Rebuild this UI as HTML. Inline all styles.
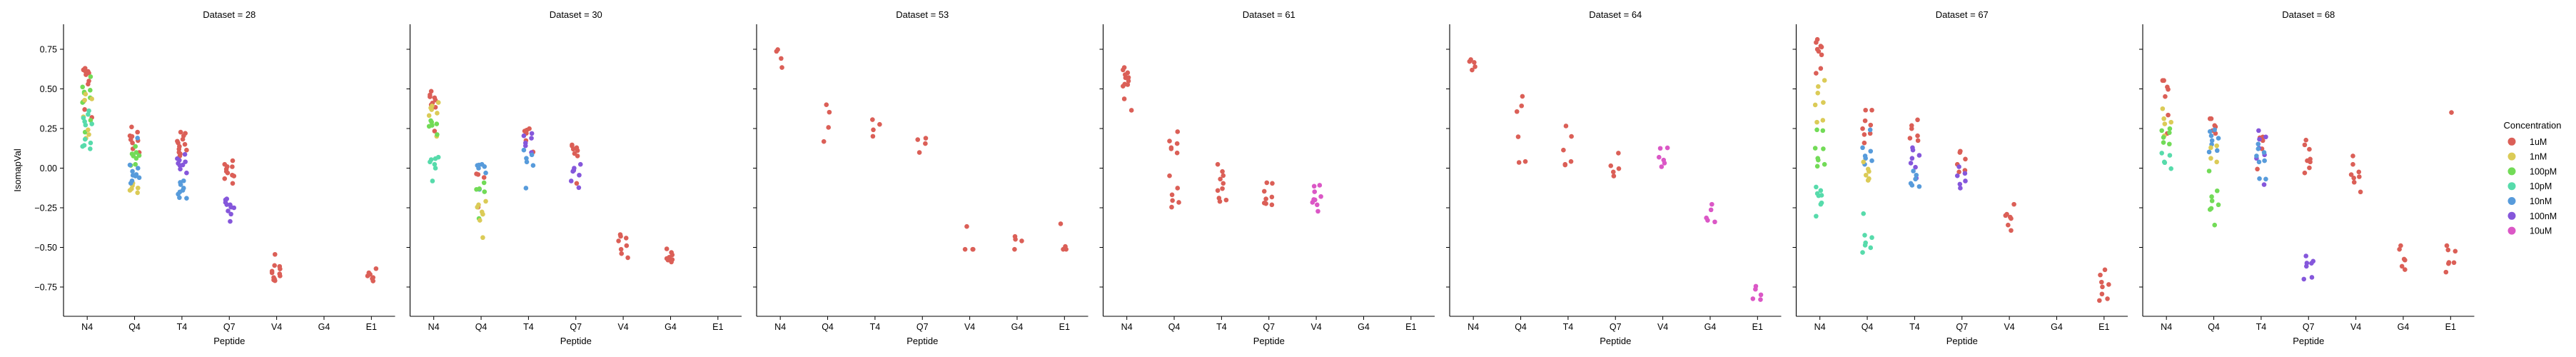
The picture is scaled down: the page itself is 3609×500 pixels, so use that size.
<!DOCTYPE html>
<html><head><meta charset="utf-8"><style>
body{margin:0;background:#fff}
svg{display:block}
text{font-family:"Liberation Sans","DejaVu Sans",sans-serif;fill:#000}
</style></head><body>
<svg id="chart" width="3609" height="500" viewBox="0 0 3609 500" xmlns="http://www.w3.org/2000/svg"></svg>
<script>
const datasets = [28, 30, 53, 61, 64, 67, 68];
const peptides = ["N4","Q4","T4","Q7","V4","G4","E1"];
const concentrations = ["1uM","1nM","100pM","10pM","10nM","100nM","10uM"];
const concColors = ["#db5f57","#dbcb57","#72db57","#57dbab","#579bdb","#8557db","#db57c6"];
const yTicks = [0.75,0.5,0.25,0,-0.25,-0.5,-0.75];
const yTickLabels = ["0.75","0.50","0.25","0.00","\u22120.25","\u22120.50","\u22120.75"];
// each entry: [peptideIndex, concentrationIndex, [values]]
const d28 = [
 [0,0,[0.62,0.62,0.61,0.60,0.59,0.55,0.53,0.42,0.37,0.32,0.61,0.63]],
 [0,2,[0.577,0.512,0.492,0.48,0.474,0.444,0.414,0.302,0.227]],
 [0,1,[0.467,0.437,0.429,0.324,0.242,0.212,0.189]],
 [0,3,[0.362,0.339,0.317,0.294,0.279,0.272,0.182,0.159,0.137,0.122,0.144]],
 [1,0,[0.26,0.227,0.204,0.174,0.159,0.122,0.099,0.2,0.18]],
 [1,2,[0.137,0.099,0.077,0.062,0.024,0.017,0.09,0.08]],
 [1,1,[-0.095,-0.11,-0.125,-0.14,-0.155,-0.1,-0.13]],
 [1,4,[0.19,0.02,0,-0.02,-0.045,-0.06,-0.08,-0.095,-0.05,-0.04]],
 [2,0,[0.227,0.204,0.182,0.159,0.137,0.114,0.09,0.077,0.22,0.17,0.15,0.12,0.1]],
 [2,5,[0.087,0.06,0.04,0.017,-0.006,-0.03,0.05,0.03,0.02]],
 [2,4,[-0.08,-0.104,-0.126,-0.14,-0.164,-0.186,-0.19,-0.09,-0.15]],
 [3,0,[0.047,0.024,0.009,-0.006,-0.02,-0.044,-0.066,-0.096,0.01,-0.03,-0.05]],
 [3,5,[-0.194,-0.216,-0.231,-0.246,-0.27,-0.29,-0.336,-0.2,-0.23,-0.25]],
 [4,0,[-0.544,-0.614,-0.636,-0.65,-0.667,-0.69,-0.705,-0.62,-0.66,-0.68,-0.7,-0.71]],
 [6,0,[-0.634,-0.66,-0.68,-0.697,-0.712,-0.67,-0.69]]
];
const d30 = [
 [0,0,[0.485,0.462,0.444,0.429,0.411,0.384,0.234,0.45,0.40]],
 [0,1,[0.414,0.392,0.369,0.347,0.332,0.201,0.38]],
 [0,2,[0.3,0.279,0.264,0.212,0.29,0.27]],
 [0,3,[0.069,0.054,0.039,0.024,0,-0.081,0.06]],
 [1,4,[0.024,0.017,0,-0.03,-0.134,0.02,0.01]],
 [1,0,[-0.036,-0.059,-0.246,-0.04]],
 [1,2,[-0.092,-0.134,-0.149,-0.318,-0.13]],
 [1,1,[-0.209,-0.231,-0.246,-0.276,-0.291,-0.329,-0.438]],
 [2,0,[0.249,0.234,0.174,0.102,0.24,0.22]],
 [2,5,[0.219,0.204,0.189,0.159,0.141,0.099]],
 [2,4,[0.114,0.084,0.062,0.039,0.017,-0.126]],
 [3,0,[0.147,0.129,0.111,0.092,0.077,-0.096,0.14,0.12]],
 [3,5,[0.024,0,-0.014,-0.044,-0.081,-0.123,-0.02]],
 [4,0,[-0.419,-0.441,-0.459,-0.489,-0.512,-0.539,-0.565,-0.43]],
 [5,0,[-0.509,-0.532,-0.547,-0.562,-0.577,-0.592,-0.57,-0.58]]
];
const d53 = [
 [0,0,[0.748,0.737,0.692,0.635]],
 [1,0,[0.4,0.353,0.257,0.168]],
 [2,0,[0.306,0.276,0.242,0.201]],
 [3,0,[0.189,0.18,0.155,0.099]],
 [4,0,[-0.368,-0.512,-0.512,-0.512]],
 [5,0,[-0.431,-0.449,-0.459,-0.512]],
 [6,0,[-0.351,-0.494,-0.512,-0.512]]
];
const d61 = [
 [0,0,[0.635,0.62,0.602,0.572,0.57,0.55,0.527,0.517,0.437,0.365,0.59,0.53]],
 [1,0,[0.23,0.171,0.155,0.129,0.122,0.096,-0.048,-0.126,-0.168,-0.204,-0.216,-0.246]],
 [2,0,[0.024,-0.021,-0.047,-0.069,-0.096,-0.129,-0.141,-0.189,-0.201,-0.21]],
 [3,0,[-0.092,-0.096,-0.146,-0.182,-0.194,-0.224,-0.231,-0.22]],
 [4,6,[-0.108,-0.114,-0.149,-0.179,-0.198,-0.216,-0.231,-0.272,-0.2]]
];
const d64 = [
 [0,0,[0.685,0.673,0.667,0.64,0.619]],
 [1,0,[0.453,0.393,0.357,0.198,0.042,0.036]],
 [2,0,[0.266,0.2,0.114,0.042,0.024,0.02]],
 [3,0,[0.095,0.015,-0.003,-0.024,-0.05]],
 [4,6,[0.128,0.125,0.069,0.051,0.032,0.009]],
 [5,6,[-0.228,-0.263,-0.314,-0.329,-0.339]],
 [6,6,[-0.745,-0.764,-0.799,-0.824,-0.829]]
];
const d67 = [
 [0,0,[0.812,0.793,0.77,0.764,0.737,0.715,0.629,0.599,0.75]],
 [0,1,[0.554,0.515,0.474,0.414,0.399,0.302,0.29]],
 [0,2,[0.242,0.237,0.126,0.122,0.062,0.051,0.024,0.012]],
 [0,3,[-0.119,-0.141,-0.171,-0.174,-0.219,-0.228,-0.303,-0.16]],
 [1,0,[0.366,0.366,0.299,0.272,0.249,0.219,0.212,0.159]],
 [1,4,[0.242,0.129,0.107,0.077,0.062,0.047,0.024]],
 [1,1,[0.039,-0.006,-0.021,-0.044,-0.066,-0.077]],
 [1,3,[-0.287,-0.423,-0.438,-0.471,-0.486,-0.502,-0.532]],
 [2,0,[0.305,0.269,0.249,0.204,0.189,0.174]],
 [2,5,[0.129,0.114,0.081,0.062,0.032,0.006,-0.063]],
 [2,4,[-0.018,-0.044,-0.069,-0.096,-0.108,-0.116]],
 [3,0,[0.107,0.099,0.057,0.024,-0.014,-0.024]],
 [3,5,[0.009,-0.033,-0.048,-0.081,-0.101,-0.126]],
 [4,0,[-0.228,-0.291,-0.299,-0.309,-0.318,-0.359,-0.393]],
 [6,0,[-0.641,-0.674,-0.719,-0.734,-0.749,-0.794,-0.824,-0.835]]
];
const d68 = [
 [0,0,[0.553,0.553,0.512,0.497,0.452,0.335,0.219]],
 [0,1,[0.375,0.312,0.29,0.279,0.204]],
 [0,2,[0.249,0.237,0.224,0.194,0.162,0.152]],
 [0,3,[0.095,0.081,0.039,0.035,-0.003]],
 [1,0,[0.312,0.312,0.269,0.261,0.237,0.219]],
 [1,4,[0.242,0.231,0.204,0.189,0.174,0.15,0.111,0.102]],
 [1,1,[0.141,0.129,0.062,0.039]],
 [1,2,[-0.018,-0.143,-0.18,-0.206,-0.231,-0.254,-0.261,-0.359]],
 [2,0,[0.197,0.192,0.174,0.122,-0.006]],
 [2,5,[0.237,0.197,0.182,0.126,0.084,0.062,-0.104]],
 [2,4,[0.152,0.122,0.099,0.077,0.047,0.039,-0.066,-0.069]],
 [3,0,[0.177,0.147,0.119,0.057,0.047,0.039,0.002,-0.03]],
 [3,5,[-0.554,-0.587,-0.599,-0.619,-0.689,-0.7,-0.6]],
 [4,0,[0.077,0.024,-0.024,-0.041,-0.054,-0.062,-0.089,-0.15]],
 [5,0,[-0.489,-0.512,-0.574,-0.58,-0.619,-0.64]],
 [6,0,[0.351,-0.489,-0.516,-0.524,-0.595,-0.602,-0.596,-0.656]]
];
const panelData = [d28, d30, d53, d61, d64, d67, d68];

const NS = "http://www.w3.org/2000/svg";
const svg = document.getElementById("chart");
const PANEL_X0 = 89, PANEL_PITCH = 485.5, PANEL_W = 464.5;
const TOP = 34, BOTTOM = 443, Y0 = 235.5, YSCALE = 222;
function yScale(v){ return Y0 - v * YSCALE; }
function xScale(p, i){ return PANEL_X0 + p * PANEL_PITCH + (i + 0.5) * (PANEL_W / peptides.length); }
function mk(tag, attrs, parent){
  const e = document.createElementNS(NS, tag);
  for (const k in attrs) e.setAttribute(k, attrs[k]);
  (parent || svg).appendChild(e);
  return e;
}

datasets.forEach((ds, p) => {
  const g = mk("g", {});
  
  
  const x0 = PANEL_X0 + p * PANEL_PITCH;
  const t = mk("text", {x: x0 + PANEL_W / 2, y: 25, "font-size": 13, "text-anchor": "middle"}, g);
  t.textContent = "Dataset = " + ds;
  
  
  let k = 0;
  panelData[p].forEach(grp => {
    const pep = grp[0], c = grp[1];
    grp[2].forEach(v => {
      const h = (k * k * 7 + k * 13 + 5) % 23;
      const jit = (h / 22 - 0.5) * 13;
      k++;
      const dot = mk("circle", {cx: xScale(p, pep) + jit, cy: yScale(v), r: 3.3, fill: concColors[c]}, g);
      
      
    });
  });
  const ya = mk("line", {x1: x0, x2: x0, y1: TOP, y2: BOTTOM, stroke: "#000", "stroke-width": 1.1}, g);
  
  
  const xa = mk("line", {x1: x0, x2: x0 + PANEL_W, y1: BOTTOM, y2: BOTTOM, stroke: "#000", "stroke-width": 1.1}, g);
  
  
  yTicks.forEach((tv, ti) => {
    mk("line", {x1: x0 - 5, x2: x0, y1: yScale(tv), y2: yScale(tv), stroke: "#000", "stroke-width": 1}, g);
    if (p === 0) {
      const tl = mk("text", {x: x0 - 9, y: yScale(tv) + 4.5, "font-size": 12.5, "text-anchor": "end"}, g);
      tl.textContent = yTickLabels[ti];
      
      
    }
  });
  peptides.forEach((pn, i) => {
    const x = xScale(p, i);
    mk("line", {x1: x, x2: x, y1: BOTTOM, y2: BOTTOM + 5, stroke: "#000", "stroke-width": 1}, g);
    const tl = mk("text", {x: x, y: 462, "font-size": 12.5, "text-anchor": "middle"}, g);
    tl.textContent = pn;
    
    
  });
  const xl = mk("text", {x: x0 + PANEL_W / 2, y: 482, "font-size": 13, "text-anchor": "middle"}, g);
  xl.textContent = "Peptide";
  
  
});

const yl = mk("text", {x: 0, y: 0, "font-size": 13, "text-anchor": "middle", transform: "translate(29,238.5) rotate(-90)"});
yl.textContent = "IsomapVal";



const lg = mk("g", {});


const lt = mk("text", {x: 3548, y: 180, "font-size": 13, "text-anchor": "middle"}, lg);
lt.textContent = "Concentration";


concentrations.forEach((c, i) => {
  const y = 198.3 + i * 20.8;
  const m = mk("circle", {cx: 3519, cy: y, r: 5.5, fill: concColors[i]}, lg);
  
  
  const t = mk("text", {x: 3544, y: y + 4.5, "font-size": 12.5}, lg);
  t.textContent = c;
  
  
});
</script>
</body></html>
